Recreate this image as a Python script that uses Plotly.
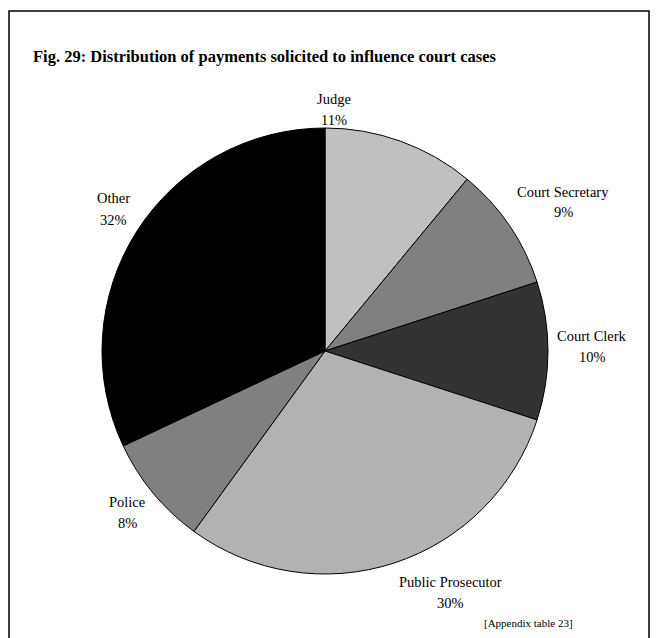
import plotly.graph_objects as go

W, H = 657, 638

categories = ["Judge", "Court Secretary", "Court Clerk", "Public Prosecutor", "Police", "Other"]
shares = [11, 9, 10, 30, 8, 32]
slice_colors = ["#c0c0c0", "#808080", "#333333", "#b2b2b2", "#808080", "#000000"]

# label anchor positions in pixels (centre of the two-line label)
label_pos = [(334, 110), (563, 202), (592, 346), (450, 592), (127, 512), (113, 209)]

title_text = "Fig. 29: Distribution of payments solicited to influence court cases"
source_text = "[Appendix table 23]"

# pie geometry in pixels
cx, cy, r = 325, 351, 223

fig = go.Figure(go.Pie(
    labels=categories,
    values=shares,
    sort=False,
    direction="clockwise",
    rotation=0,
    marker=dict(colors=slice_colors, line=dict(color="black", width=1)),
    textinfo="none",
    hoverinfo="label+percent",
    showlegend=False,
    domain=dict(x=[(cx - r) / W, (cx + r) / W], y=[1 - (cy + r) / H, 1 - (cy - r) / H]),
))

font = "Liberation Serif, Times New Roman, serif"
total = sum(shares)
ann = []
for cat, v, (px, py) in zip(categories, shares, label_pos):
    for txt, dy in ((cat, -10.5), (f"{round(100 * v / total)}%", 10.5)):
        ann.append(dict(
            x=px / W, y=1 - (py + dy) / H, xref="paper", yref="paper",
            text=txt, showarrow=False, xanchor="center", yanchor="middle",
            font=dict(family=font, size=14.5, color="black"),
        ))
ann.append(dict(
    x=31 / W, y=1 - 56 / H, xref="paper", yref="paper", text=f"<b>{title_text}</b>",
    showarrow=False, xanchor="left", yanchor="middle",
    font=dict(family=font, size=16.5, color="black"),
))
ann.append(dict(
    x=528 / W, y=1 - 623 / H, xref="paper", yref="paper", text=source_text,
    showarrow=False, xanchor="center", yanchor="middle",
    font=dict(family=font, size=11, color="black"),
))

fig.update_layout(
    width=W, height=H,
    margin=dict(l=0, r=0, t=0, b=0),
    paper_bgcolor="white", plot_bgcolor="white",
    annotations=ann,
    shapes=[dict(type="rect", xref="paper", yref="paper",
                 x0=9 / W, x1=649 / W, y0=-0.05, y1=1 - 11 / H,
                 line=dict(color="black", width=1.5), fillcolor="rgba(0,0,0,0)")],
)

fig.write_html("out.html", config={"displayModeBar": False},
               post_script="document.body.style.margin='0px';document.body.style.overflow='hidden';")
